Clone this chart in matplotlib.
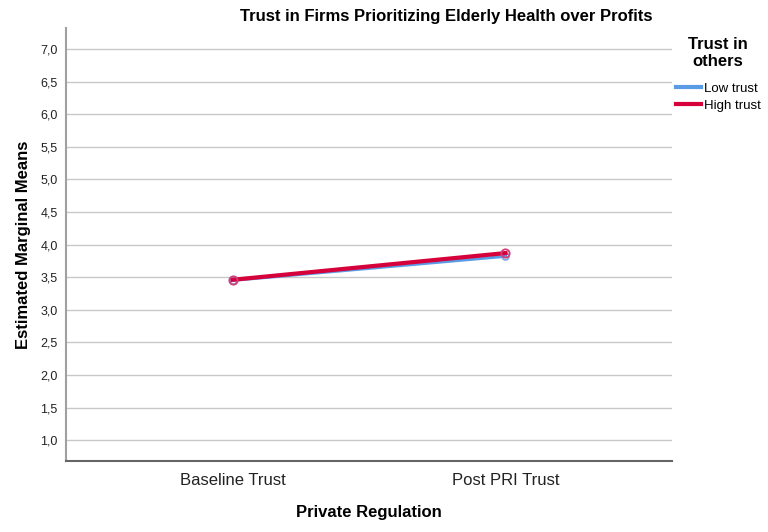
import matplotlib.pyplot as plt
from matplotlib.ticker import FuncFormatter

plt.rcParams['font.family'] = ['Liberation Sans', 'DejaVu Sans']

categories = ['Baseline Trust', 'Post PRI Trust']
low_trust = [3.45, 3.82]
high_trust = [3.46, 3.87]
yticks = [1.0, 1.5, 2.0, 2.5, 3.0, 3.5, 4.0, 4.5, 5.0, 5.5, 6.0, 6.5, 7.0]

fig = plt.figure(figsize=(7.68, 5.32), dpi=100)
ax = fig.add_axes([0.086, 0.1335, 0.789, 0.8135])

x = range(len(categories))
ax.plot(x, low_trust, color='#5a9be6', lw=2.2, marker='o', ms=5,
        mfc='none', mec='#7aa8e8', mew=1.2, label='Low trust', zorder=3)
ax.plot(x, high_trust, color='#d6003a', lw=3, marker='o', ms=6,
        mfc='none', mec='#d2407a', mew=1.3, label='High trust', zorder=4)

ax.set_xlim(-0.61, 1.61)
ax.set_ylim(0.68, 7.32)
ax.set_xticks(list(x))
ax.set_xticklabels(categories, fontsize=12, color='#222222')
ax.set_yticks(yticks)
ax.yaxis.set_major_formatter(FuncFormatter(lambda v, p: f'{v:.1f}'.replace('.', ',')))
ax.tick_params(axis='y', length=0, labelsize=9, pad=6, labelcolor='#222222')
ax.tick_params(axis='x', length=0, pad=9)
ax.grid(axis='y', color='#c8c8c8', lw=1)
ax.set_axisbelow(True)

for s in ['top', 'right']:
    ax.spines[s].set_visible(False)
ax.spines['left'].set_color('#a0a0a0')
ax.spines['left'].set_linewidth(1.5)
ax.spines['bottom'].set_color('#666666')
ax.spines['bottom'].set_linewidth(1.5)

ax.set_xlabel('Private Regulation', fontsize=12, fontweight='bold', labelpad=12)
ax.set_ylabel('Estimated Marginal Means', fontsize=12, fontweight='bold', labelpad=7)

fig.text(0.581, 0.969, 'Trust in Firms Prioritizing Elderly Health over Profits',
         ha='center', va='center', fontsize=12, fontweight='bold')

# legend title placed by hand, centred like the original
fig.text(0.935, 0.901, 'Trust in\nothers', ha='center', va='center',
         fontsize=12, fontweight='bold', linespacing=1.15)
leg = ax.legend(loc='upper left', bbox_to_anchor=(1.006, 0.874), frameon=False,
                fontsize=9.5, handlelength=1.9, handletextpad=0.25,
                labelspacing=0.35, borderaxespad=0, borderpad=0)
for h in leg.legend_handles:
    h.set_marker('')
    h.set_linewidth(3)

fig.savefig('out.png', dpi=100)
